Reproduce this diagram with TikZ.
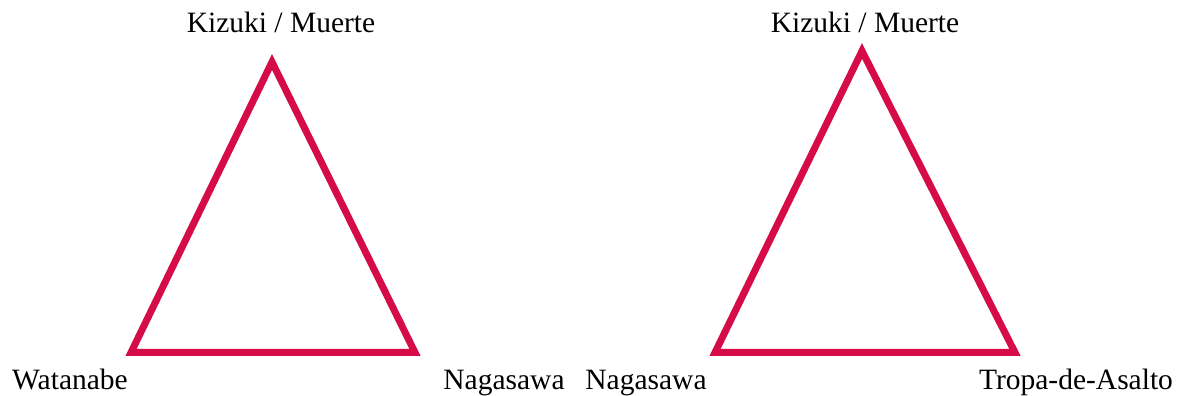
\documentclass[tikz,border=0pt]{standalone}
\usepackage{fontspec}
\setmainfont{Liberation Serif}
\usepackage{xcolor}
\usetikzlibrary{positioning}
\definecolor{crimsonline}{RGB}{214,12,72}

\begin{document}
\begin{tikzpicture}[x=1pt, y=1pt,
    lbl/.style={anchor=base, inner sep=0pt, font=\fontsize{29.5}{35}\selectfont},
    tri/.style={draw=crimsonline, line width=7pt, line join=miter}
]
    \useasboundingbox (0,0) rectangle (1179,396);

    % Left triangle
    \coordinate (l-top) at (272,334);
    \coordinate (l-left) at (131,43.5);
    \coordinate (l-right) at (415,43.5);
    \draw[tri] (l-top) -- (l-left) -- (l-right) -- cycle;
    \node[lbl] (l-top-lbl) at (281,363) {Kizuki / Muerte};
    \node[lbl] (l-left-lbl) at (70,6) {Watanabe};
    \node[lbl] (l-right-lbl) at (504,6) {Nagasawa};

    % Right triangle
    \coordinate (r-top) at (862,345);
    \coordinate (r-left) at (715,43.5);
    \coordinate (r-right) at (1015,43.5);
    \draw[tri] (r-top) -- (r-left) -- (r-right) -- cycle;
    \node[lbl] (r-top-lbl) at (865,363) {Kizuki / Muerte};
    \node[lbl] (r-left-lbl) at (646,6) {Nagasawa};
    \node[lbl] (r-right-lbl) at (1076,6) {Tropa-de-Asalto};
\end{tikzpicture}
\end{document}
